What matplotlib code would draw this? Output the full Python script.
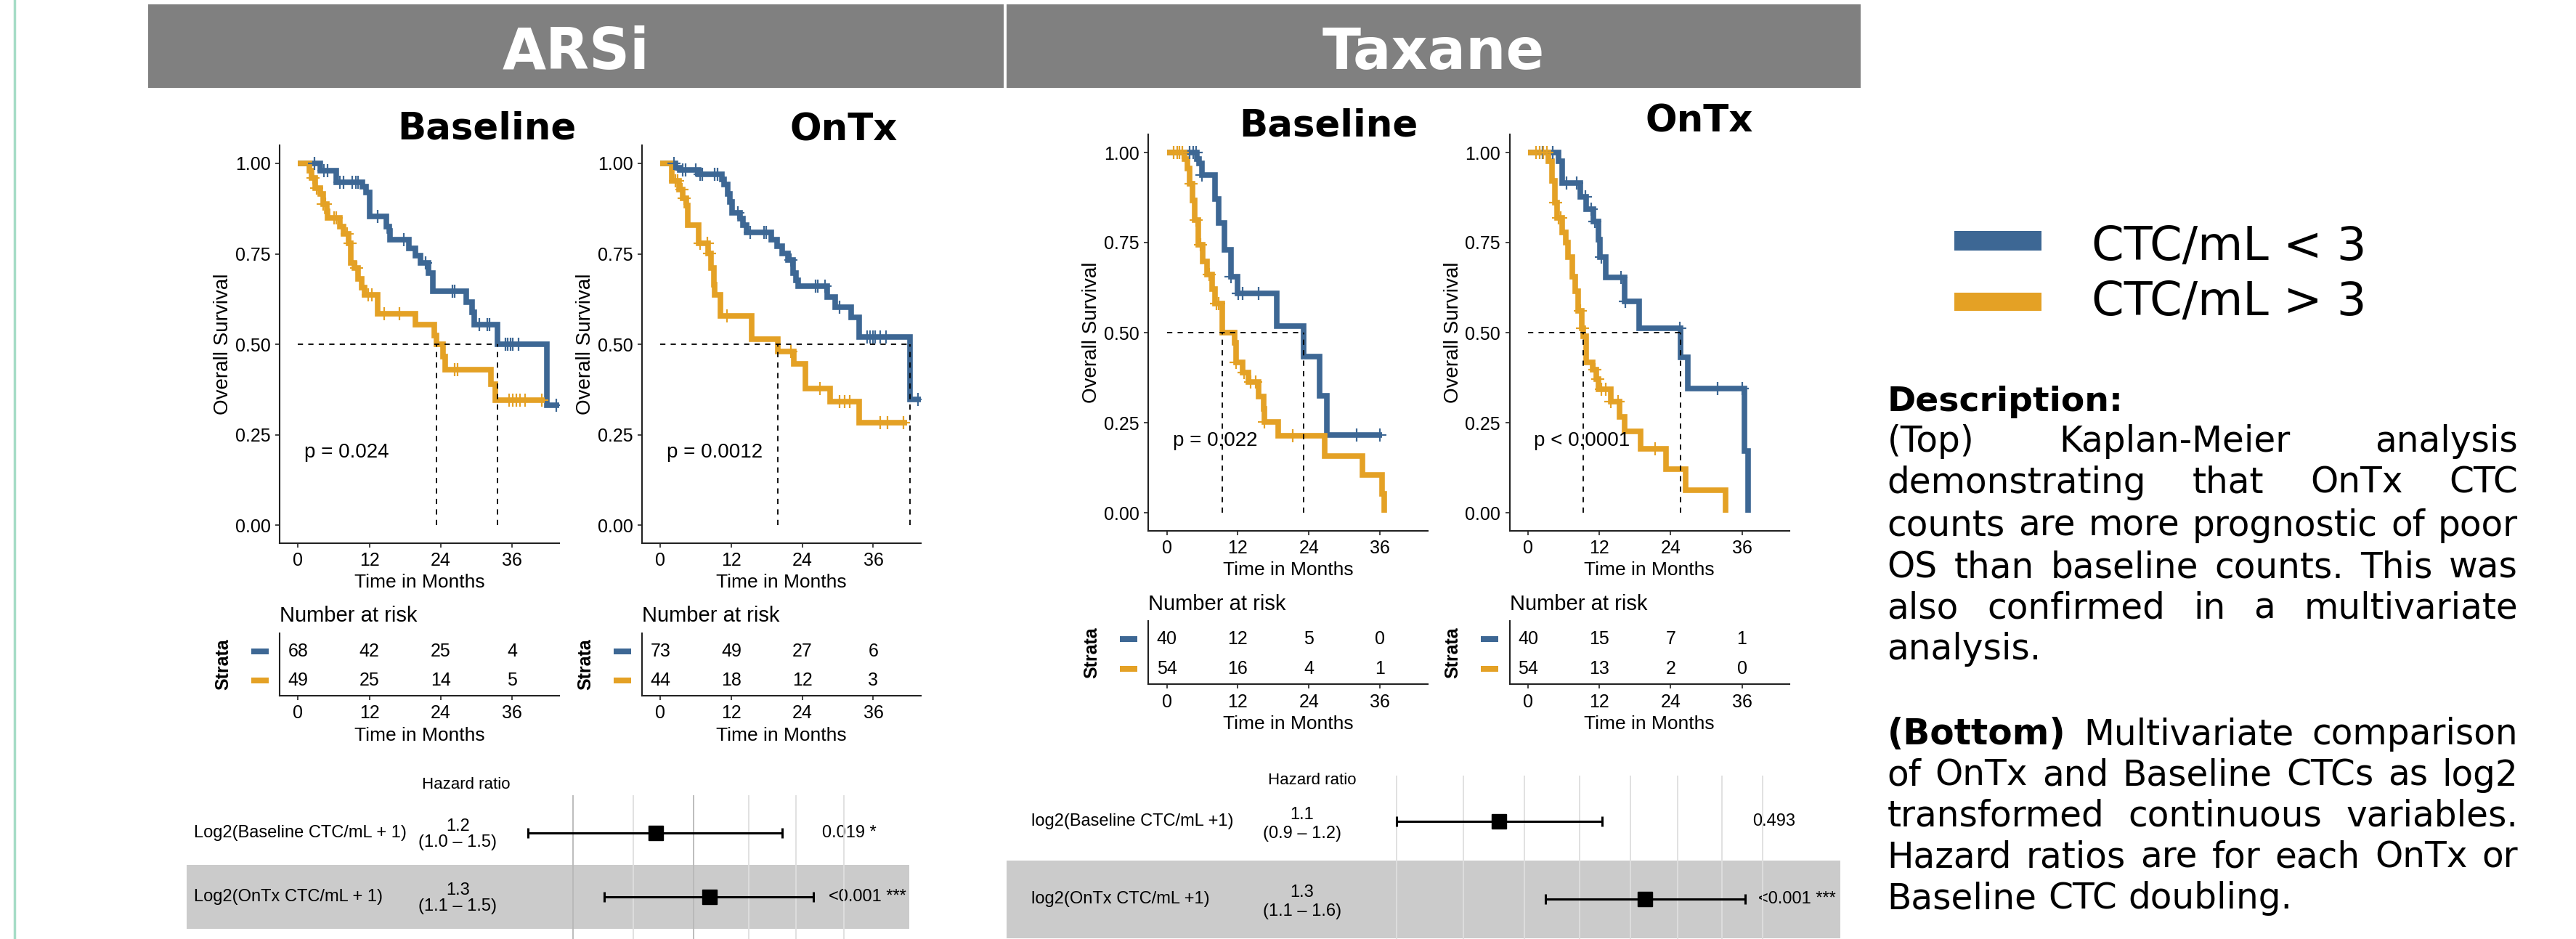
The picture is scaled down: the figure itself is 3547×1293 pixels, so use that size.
import matplotlib
matplotlib.use('Agg')
import matplotlib.pyplot as plt
from matplotlib.patches import Rectangle
from matplotlib.lines import Line2D
import matplotlib.transforms as mtransforms
import numpy as np

W, H = 3547, 1293
BLUE = '#3d6794'
ORANGE = '#e4a125'
RFONT = 'Liberation Sans'
PFONT = 'DejaVu Sans'
plt.rcParams['font.family'] = [RFONT, 'DejaVu Sans']

# ---------------- data ----------------
month_ticks = [0, 12, 24, 36]
surv_ticks = [0.0, 0.25, 0.5, 0.75, 1.0]

# ARSi, baseline CTC
arsi_base_lo_t = [0, 3.7, 6.4, 10.8, 11.4, 12.0, 14.9, 15.3, 15.5, 18.6, 19.8, 20.6, 22.0, 22.7, 28.3, 29.3, 29.7, 33.6, 41.9, 44.2]
arsi_base_lo_s = [1.0, 0.979, 0.948, 0.935, 0.92, 0.853, 0.826, 0.813, 0.789, 0.765, 0.745, 0.725, 0.697, 0.647, 0.616, 0.589, 0.555, 0.499, 0.331, 0.331]
arsi_base_lo_c = [2.7, 4.4, 5.0, 7.0, 7.7, 9.1, 9.7, 10.1, 13.4, 17.8, 21.5, 26.0, 26.4, 30.5, 31.8, 32.2, 34.9, 35.3, 35.7, 36.1, 37.1, 43.5]
arsi_base_hi_t = [0, 1.9, 2.3, 2.9, 3.7, 4.2, 4.8, 5.0, 7.0, 7.7, 8.5, 8.9, 9.5, 10.1, 10.75, 11.2, 13.4, 19.8, 22.9, 23.3, 24.4, 24.8, 32.4, 33.2, 41.5]
arsi_base_hi_s = [1.0, 0.98, 0.96, 0.932, 0.915, 0.888, 0.867, 0.85, 0.826, 0.806, 0.779, 0.725, 0.711, 0.68, 0.657, 0.636, 0.584, 0.555, 0.524, 0.499, 0.466, 0.429, 0.389, 0.345, 0.345]
arsi_base_hi_c = [2.5, 3.1, 4.2, 4.6, 6.0, 6.4, 8.3, 8.7, 9.9, 11.8, 12.4, 14.5, 17.1, 26.4, 26.8, 35.5, 36.1, 36.7, 37.3, 38.2, 41.0]

# ARSi, on-treatment CTC
arsi_ontx_lo_t = [0, 2.5, 3.3, 6.5, 10.4, 10.8, 11.4, 11.7, 12.1, 13.5, 13.9, 14.6, 18.7, 19.7, 20.6, 21.6, 22.4, 22.9, 23.3, 28.2, 29.5, 32.2, 33.6, 42.2, 44.2]
arsi_ontx_lo_s = [1.0, 0.988, 0.982, 0.969, 0.955, 0.942, 0.915, 0.894, 0.864, 0.847, 0.83, 0.809, 0.789, 0.772, 0.752, 0.732, 0.697, 0.677, 0.66, 0.63, 0.603, 0.575, 0.521, 0.348, 0.348]
arsi_ontx_lo_c = [2.3, 3.8, 4.2, 6.0, 6.7, 7.1, 9.2, 9.6, 13.1, 15.2, 17.5, 17.9, 22.0, 26.2, 26.6, 27.8, 30.3, 34.9, 35.5, 35.9, 36.3, 37.2, 38.2, 43.6]
arsi_ontx_hi_t = [0, 1.9, 3.1, 3.8, 4.4, 4.6, 6.5, 8.1, 8.5, 9.0, 9.2, 10.2, 15.4, 19.9, 22.6, 24.5, 28.7, 33.6, 41.7]
arsi_ontx_hi_s = [1.0, 0.952, 0.928, 0.904, 0.884, 0.83, 0.779, 0.752, 0.711, 0.664, 0.636, 0.579, 0.514, 0.48, 0.446, 0.378, 0.341, 0.284, 0.284]
arsi_ontx_hi_c = [2.5, 2.9, 3.6, 4.0, 6.7, 7.9, 8.3, 11.2, 22.0, 27.0, 30.3, 31.2, 32.0, 37.2, 38.4, 41.1]

# Taxane, baseline CTC
tax_base_lo_t = [0, 5.1, 5.5, 5.9, 8.2, 8.8, 9.7, 10.9, 11.9, 18.6, 23.1, 25.8, 27.0, 36.3]
tax_base_lo_s = [1.0, 0.982, 0.969, 0.938, 0.87, 0.805, 0.73, 0.655, 0.608, 0.519, 0.434, 0.325, 0.216, 0.216]
tax_base_lo_c = [3.9, 4.5, 4.9, 5.9, 10.9, 12.1, 12.8, 15.5, 32.0, 35.9]
tax_base_hi_t = [0, 3.0, 3.5, 3.9, 4.3, 4.7, 5.3, 6.1, 6.8, 7.6, 8.2, 9.4, 11.5, 11.7, 12.8, 13.8, 15.5, 16.3, 16.5, 18.8, 26.6, 33.0, 36.3, 36.7]
tax_base_hi_s = [1.0, 0.982, 0.955, 0.914, 0.867, 0.812, 0.744, 0.697, 0.662, 0.621, 0.58, 0.499, 0.472, 0.417, 0.39, 0.363, 0.322, 0.288, 0.253, 0.213, 0.158, 0.104, 0.053, 0.0]
tax_base_hi_c = [1.2, 1.8, 2.2, 2.6, 4.1, 4.9, 5.7, 7.2, 8.4, 8.8, 11.7, 13.0, 14.2, 15.0, 16.5, 21.2]

# Taxane, on-treatment CTC
tax_ontx_lo_t = [0, 5.1, 5.7, 8.8, 9.8, 11.0, 11.9, 12.1, 13.1, 16.2, 18.7, 25.7, 26.9, 36.4, 37.0]
tax_ontx_lo_s = [1.0, 0.976, 0.915, 0.877, 0.843, 0.809, 0.758, 0.71, 0.653, 0.587, 0.512, 0.432, 0.345, 0.172, 0.0]
tax_ontx_lo_c = [2.4, 4.2, 6.5, 8.2, 9.6, 10.6, 11.3, 12.3, 15.6, 16.4, 25.5, 31.9, 36.0]
tax_ontx_hi_t = [0, 3.4, 4.0, 4.5, 4.9, 5.7, 6.3, 6.7, 7.5, 8.0, 8.4, 9.0, 9.3, 9.8, 10.9, 11.5, 11.9, 13.9, 15.4, 16.2, 18.9, 23.2, 26.5, 33.3]
tax_ontx_hi_s = [1.0, 0.976, 0.921, 0.86, 0.819, 0.778, 0.751, 0.71, 0.655, 0.615, 0.56, 0.512, 0.49, 0.417, 0.397, 0.37, 0.342, 0.308, 0.267, 0.226, 0.178, 0.12, 0.063, 0.0]
tax_ontx_hi_c = [1.35, 2.0, 2.6, 3.2, 4.7, 5.1, 5.5, 8.8, 9.2, 11.3, 11.7, 12.3, 13.1, 13.9, 15.2, 21.4]

# numbers at risk at 0/12/24/36 months (CTC/mL < 3, CTC/mL > 3)
arsi_base_risk = ([68, 42, 25, 4], [49, 25, 14, 5])
arsi_ontx_risk = ([73, 49, 27, 6], [44, 18, 12, 3])
tax_base_risk = ([40, 12, 5, 0], [54, 16, 4, 1])
tax_ontx_risk = ([40, 15, 7, 1], [54, 13, 2, 0])

pvals = ['p = 0.024', 'p = 0.0012', 'p = 0.022', 'p < 0.0001']

# forest plots (multivariate Cox)
arsi_fp_labels = ['Log2(Baseline CTC/mL + 1)', 'Log2(OnTx CTC/mL + 1)']
arsi_fp_hr = [1.20, 1.30]
arsi_fp_lo = [0.99, 1.11]
arsi_fp_hi = [1.45, 1.52]
arsi_fp_hrtxt = ['1.2', '1.3']
arsi_fp_citxt = ['(1.0 \u2013 1.5)', '(1.1 \u2013 1.5)']
arsi_fp_ptxt = ['0.019 *', '<0.001 ***']
arsi_fp_grid = [1.06, 1.16, 1.27, 1.38, 1.48, 1.59]

tax_fp_labels = ['log2(Baseline CTC/mL +1)', 'log2(OnTx CTC/mL +1)']
tax_fp_hr = [1.057, 1.33]
tax_fp_lo = [0.90, 1.138]
tax_fp_hi = [1.243, 1.556]
tax_fp_hrtxt = ['1.1', '1.3']
tax_fp_citxt = ['(0.9 \u2013 1.2)', '(1.1 \u2013 1.6)']
tax_fp_ptxt = ['0.493', '<0.001 ***']
tax_fp_grid = [0.9, 1.0, 1.1, 1.2, 1.3, 1.4, 1.5, 1.6]

legend_labels = ['CTC/mL < 3', 'CTC/mL > 3']

desc_lines = [
    ['(Top)', 'Kaplan-Meier', 'analysis'],
    ['demonstrating', 'that', 'OnTx', 'CTC'],
    ['counts', 'are', 'more', 'prognostic', 'of', 'poor'],
    ['OS', 'than', 'baseline', 'counts.', 'This', 'was'],
    ['also', 'confirmed', 'in', 'a', 'multivariate'],
    ['analysis.'],
    None,
    ['(Bottom)', 'Multivariate', 'comparison'],
    ['of', 'OnTx', 'and', 'Baseline', 'CTCs', 'as', 'log2'],
    ['transformed', 'continuous', 'variables.'],
    ['Hazard', 'ratios', 'are', 'for', 'each', 'OnTx', 'or'],
    ['Baseline', 'CTC', 'doubling.'],
]

# ---------------- figure ----------------
fig = plt.figure(figsize=(W / 100, H / 100), dpi=100)
fig.patch.set_facecolor('white')


def px_axes(x0, y0, x1, y1):
    return fig.add_axes([x0 / W, 1 - y1 / H, (x1 - x0) / W, (y1 - y0) / H])


def fy(y):
    return 1 - y / H


# left accent line and section headers
fig.add_artist(Line2D([20 / W, 20 / W], [0, 1], color='#a6dcc6', lw=2.5))
for x0, x1, name in [(204, 1382, 'ARSi'), (1386, 2562, 'Taxane')]:
    fig.add_artist(Rectangle((x0 / W, fy(121)), (x1 - x0) / W, 115 / H,
                             transform=fig.transFigure, color='#808080', lw=0))
    fig.text((x0 + x1) / 2 / W, fy(95), name, ha='center', va='baseline',
             fontsize=56, weight='bold', color='white', family=PFONT)

XLIM = (-3.1, 44)
YLIM = (-0.05, 1.05)


def style_axes(ax):
    for sp in ['top', 'right']:
        ax.spines[sp].set_visible(False)
    for sp in ['left', 'bottom']:
        ax.spines[sp].set_linewidth(1.5)
        ax.spines[sp].set_color('#222222')
    ax.tick_params(length=4, width=1.2, labelsize=18, colors='#222222',
                   labelcolor='black', pad=5)


def km_panel(x0, x1, y1pos, y0pos, curves, pval, title, tcx, tby):
    # y1pos: pixel row of survival 1.0, y0pos: pixel row of survival 0.0
    unit = y0pos - y1pos
    ax = px_axes(x0, y1pos - 0.05 * unit, x1, y0pos + 0.05 * unit)
    ax.set_xlim(*XLIM)
    ax.set_ylim(*YLIM)
    style_axes(ax)
    meds = []
    for t, s, cens, col in curves:
        t = np.asarray(t)
        s = np.asarray(s)
        ax.step(t, s, where='post', color=col, lw=5.5, solid_joinstyle='miter',
                solid_capstyle='butt', zorder=3)
        idx = np.searchsorted(t, cens, side='right') - 1
        ax.plot(cens, s[idx], ls='none', marker='+', ms=13, mew=1.6, color=col, zorder=4)
        meds.append(t[np.argmax(s <= 0.5)])
    ax.plot([0, max(meds)], [0.5, 0.5], color='black', lw=1.3, dashes=(4, 4), zorder=5)
    for m in meds:
        ax.plot([m, m], [0, 0.5], color='black', lw=1.3, dashes=(4, 4), zorder=5)
    ax.text(1.0, 0.2, pval, ha='left', va='center', fontsize=20, zorder=6)
    ax.set_xticks(month_ticks)
    ax.set_yticks(surv_ticks)
    ax.set_yticklabels([f'{v:.2f}' for v in surv_ticks])
    ax.annotate('Time in Months', xy=(0.5, 0), xycoords='axes fraction', xytext=(0, -54),
                textcoords='offset pixels', ha='center', va='center', fontsize=19)
    ax.annotate('Overall Survival', xy=(0, 0.5), xycoords='axes fraction', xytext=(-78, 0),
                textcoords='offset pixels', ha='center', va='center', rotation=90, fontsize=20)
    fig.text(tcx / W, fy(tby), title, ha='center', va='baseline', fontsize=37,
             weight='bold', family=PFONT)
    return ax


def risk_table(x0, x1, ytop, ybot, risk):
    ax = px_axes(x0, ytop, x1, ybot)
    ax.set_xlim(*XLIM)
    ax.set_ylim(0.48, 2.62)
    style_axes(ax)
    ax.set_yticks([])
    ax.set_xticks(month_ticks)
    for row, vals in zip([2, 1], risk):
        for m, v in zip(month_ticks, vals):
            ax.text(m, row, str(v), ha='center', va='center', fontsize=18)
    off = mtransforms.ScaledTranslation(-27.5 / 100, 0, fig.dpi_scale_trans)
    trans = mtransforms.blended_transform_factory(ax.transAxes, ax.transData) + off
    key = [(-1.5, -0.5), (1.5, -0.5), (1.5, 0.5), (-1.5, 0.5), (-1.5, -0.5)]
    for row, col in zip([2, 1], [BLUE, ORANGE]):
        ax.plot([0], [row], transform=trans, marker=key, ms=18, color=col, mew=0,
                clip_on=False)
    ax.annotate('Strata', xy=(0, 0.5), xycoords='axes fraction', xytext=(-78, 0),
                textcoords='offset pixels', ha='center', va='center', rotation=90,
                fontsize=18, weight='bold')
    ax.annotate('Number at risk', xy=(0, 1), xycoords='axes fraction', xytext=(0, 23),
                textcoords='offset pixels', ha='left', va='center', fontsize=21)
    ax.annotate('Time in Months', xy=(0.5, 0), xycoords='axes fraction', xytext=(0, -55),
                textcoords='offset pixels', ha='center', va='center', fontsize=19)
    return ax


panels = [
    (385.1, 770.4, 225, 723,
     [(arsi_base_lo_t, arsi_base_lo_s, arsi_base_lo_c, BLUE),
      (arsi_base_hi_t, arsi_base_hi_s, arsi_base_hi_c, ORANGE)],
     pvals[0], 'Baseline', 670, 191, 871.5, 957.8, arsi_base_risk),
    (884.2, 1267.6, 225, 723,
     [(arsi_ontx_lo_t, arsi_ontx_lo_s, arsi_ontx_lo_c, BLUE),
      (arsi_ontx_hi_t, arsi_ontx_hi_s, arsi_ontx_hi_c, ORANGE)],
     pvals[1], 'OnTx', 1162, 194, 871.5, 957.8, arsi_ontx_risk),
    (1581.2, 1965.7, 210, 706,
     [(tax_base_lo_t, tax_base_lo_s, tax_base_lo_c, BLUE),
      (tax_base_hi_t, tax_base_hi_s, tax_base_hi_c, ORANGE)],
     pvals[2], 'Baseline', 1829, 187, 855, 942, tax_base_risk),
    (2078.6, 2464.0, 210, 706,
     [(tax_ontx_lo_t, tax_ontx_lo_s, tax_ontx_lo_c, BLUE),
      (tax_ontx_hi_t, tax_ontx_hi_s, tax_ontx_hi_c, ORANGE)],
     pvals[3], 'OnTx', 2340, 182, 855, 942, tax_ontx_risk),
]

for (x0, x1, y1p, y0p, curves, pv, title, tcx, tby, rt, rb, risk) in panels:
    km_panel(x0, x1, y1p, y0p, curves, pv, title, tcx, tby)
    risk_table(x0, x1, rt, rb, risk)


def forest(ox0, ox1, oytop, ylim, ix0, ix1, hrlim, labels, hr, lo, hi, hrtxt, citxt,
           ptxt, grid, dark, lab_x, hr_x, p_xs, head_y, ci_off):
    axo = px_axes(ox0, oytop, ox1, H)
    axo.set_xlim(0, 1)
    axo.set_ylim(*ylim)
    axo.axis('off')
    axo.axhspan(0.5, 1.5, color='#cbcbcb', lw=0, zorder=0)
    rows = [2, 1]
    for r, lab, ht, ct, pt, px in zip(rows, labels, hrtxt, citxt, ptxt, p_xs):
        axo.text(lab_x, r, lab, ha='left', va='center', fontsize=17)
        axo.annotate(ht, xy=(hr_x, r), xytext=(0, 9), textcoords='offset pixels',
                     ha='center', va='center', fontsize=17)
        axo.annotate(ct, xy=(hr_x, r), xytext=(0, ci_off), textcoords='offset pixels',
                     ha='center', va='center', fontsize=17)
        axo.text(px, r, pt, ha='left', va='center', fontsize=17)
    axo.text(hr_x + 0.012, head_y, 'Hazard ratio', ha='center', va='center', fontsize=16,
             clip_on=False)

    axi = px_axes(ix0, oytop, ix1, H)
    axi.set_xscale('log')
    axi.set_xlim(*hrlim)
    axi.set_ylim(*ylim)
    axi.axis('off')
    for g in grid:
        axi.axvline(g, color='#b8b8b8' if g in dark else '#dedede', lw=1.3, zorder=1)
    for r, h, l, u in zip(rows, hr, lo, hi):
        axi.errorbar([h], [r], xerr=[[h - l], [u - h]], fmt='s', color='black', ms=15,
                     elinewidth=2.2, capsize=5, capthick=2.2, zorder=3)


forest(257, 1252, 1095, (0.34, 2.59), 700, 1200, (0.9618, 1.658), arsi_fp_labels,
       arsi_fp_hr, arsi_fp_lo, arsi_fp_hi, arsi_fp_hrtxt, arsi_fp_citxt, arsi_fp_ptxt,
       arsi_fp_grid, [1.06, 1.27], 0.01, 0.375, [0.879, 0.888], 2.76, -13)
forest(1386, 2534, 1068, (0.486, 2.59), 1900, 2450, (0.877, 1.642), tax_fp_labels,
       tax_fp_hr, tax_fp_lo, tax_fp_hi, tax_fp_hrtxt, tax_fp_citxt, tax_fp_ptxt,
       tax_fp_grid, [], 0.0296, 0.3545, [0.8946, 0.9016], 2.53, -17)

# legend
for (yt, yb), col, lab, base in zip([(318.5, 345), (403, 428)], [BLUE, ORANGE],
                                    legend_labels, [358, 434]):
    fig.add_artist(Rectangle((2691 / W, fy(yb)), 120 / W, (yb - yt) / H,
                             transform=fig.transFigure, color=col, lw=0))
    fig.text(2880 / W, fy(base), lab, ha='left', va='baseline', fontsize=46, family=PFONT)

# description, justified
renderer = fig.canvas.get_renderer()
LEFT, RIGHT = 2598.5, 3467
BODY = 35
fig.text(LEFT / W, fy(566), 'Description:', ha='left', va='baseline', fontsize=BODY - 1,
         weight='bold', family=PFONT)
baselines = [622.5, 679, 737.6, 795.5, 852, 908.5, None, 1025, 1081.5, 1138, 1194.6, 1251]
space_px = 0.318 * BODY * 100 / 72
for i, (words, base) in enumerate(zip(desc_lines, baselines)):
    if words is None:
        continue
    last = (i + 1 == len(desc_lines)) or desc_lines[i + 1] is None
    texts = []
    for w in words:
        t = fig.text(0, fy(base), w, ha='left', va='baseline', fontsize=BODY, family=PFONT,
                     weight='bold' if w == '(Bottom)' else 'normal')
        texts.append(t)
    widths = [t.get_window_extent(renderer).width for t in texts]
    if last or len(words) == 1:
        gap = space_px
    else:
        gap = (RIGHT - LEFT - sum(widths)) / (len(words) - 1)
    x = LEFT
    for t, wd in zip(texts, widths):
        t.set_x(x / W)
        x += wd + gap

fig.savefig('out.png', dpi=100, facecolor='white')
